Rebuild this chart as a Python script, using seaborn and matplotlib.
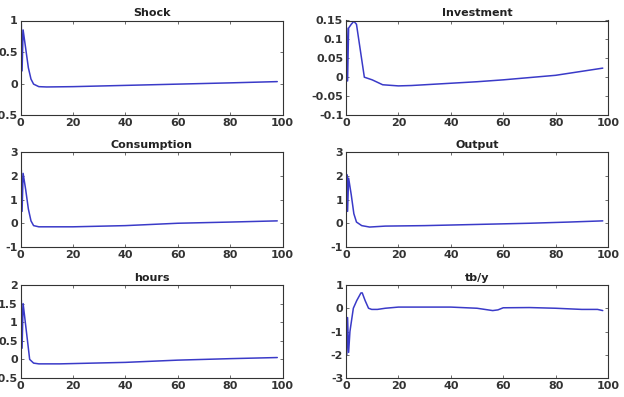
import numpy as np
import pandas as pd
import seaborn as sns
import matplotlib
matplotlib.use("Agg")
import matplotlib.pyplot as plt

titles = ["Shock", "Investment", "Consumption", "Output", "hours", "tb/y"]

shock_x = [0, 0.3, 0.6, 1, 2, 3, 4, 5, 7, 10, 20, 40, 60, 80, 98]
shock_y = [0, 0.95, 0.2, 0.85, 0.55, 0.25, 0.07, -0.01, -0.05, -0.055, -0.05, -0.03, -0.01, 0.01, 0.03]

inv_x = [0, 0.3, 0.6, 1, 2, 3, 4, 5.5, 7, 10, 14, 20, 25, 35, 50, 60, 80, 98]
inv_y = [-0.01, 0.13, -0.01, 0.13, 0.14, 0.148, 0.14, 0.07, 0.0, -0.007, -0.02, -0.023, -0.022, -0.018, -0.012, -0.007, 0.005, 0.024]

cons_x = [0, 0.3, 0.6, 1, 2, 3, 4, 5, 7, 20, 40, 60, 80, 98]
cons_y = [0, 2.25, 0.5, 2.1, 1.4, 0.6, 0.1, -0.1, -0.15, -0.15, -0.1, 0.0, 0.05, 0.1]

out_x = [0, 0.3, 0.6, 1, 2, 3, 4, 6, 9, 15, 30, 50, 70, 85, 98]
out_y = [0.4, 2.05, 0.5, 1.9, 1.2, 0.4, 0.05, -0.1, -0.16, -0.12, -0.1, -0.05, 0.0, 0.05, 0.1]

hours_x = [0, 0.3, 0.6, 1, 2, 3, 3.5, 5, 7, 15, 40, 60, 80, 98]
hours_y = [0, 1.6, 0.3, 1.5, 0.9, 0.3, 0.0, -0.1, -0.12, -0.12, -0.08, -0.02, 0.02, 0.05]

tby_x = [0, 0.3, 0.6, 1, 1.5, 2.8, 4.1, 5.7, 6.2, 7.3, 8.6, 9.8, 12, 15, 20, 40, 50, 56, 58, 60, 70, 80, 90, 96, 98]
tby_y = [-0.4, -2.0, -0.4, -1.9, -1.0, 0.0, 0.33, 0.66, 0.66, 0.33, 0.0, -0.05, -0.05, 0.0, 0.05, 0.05, 0.0, -0.1, -0.07, 0.02, 0.03, 0.0, -0.05, -0.05, -0.1]

series = [(shock_x, shock_y), (inv_x, inv_y), (cons_x, cons_y),
          (out_x, out_y), (hours_x, hours_y), (tby_x, tby_y)]

ylims = [(-0.5, 1), (-0.1, 0.15), (-1, 3), (-1, 3), (-0.5, 2), (-3, 1)]
yticks = [[-0.5, 0, 0.5, 1],
          [-0.1, -0.05, 0, 0.05, 0.1, 0.15],
          [-1, 0, 1, 2, 3],
          [-1, 0, 1, 2, 3],
          [-0.5, 0, 0.5, 1, 1.5, 2],
          [-3, -2, -1, 0, 1]]
xticks = [0, 20, 40, 60, 80, 100]

sns.set_style("ticks")
plt.rcParams['font.family'] = ['DejaVu Sans']

fig = plt.figure(figsize=(6.24, 3.97), dpi=100)
W, H = 624, 397
lefts = [20.5, 346]
width = 262
rows = [(20.5, 115), (152, 247), (285, 378)]

line_color = "#3a3ac8"

for i, (t, (xs, ys)) in enumerate(zip(titles, series)):
    r, c = divmod(i, 2)
    top, bot = rows[r]
    ax = fig.add_axes([lefts[c] / W, 1 - bot / H, width / W, (bot - top) / H])
    df = pd.DataFrame({"x": xs, "y": ys})
    sns.lineplot(data=df, x="x", y="y", ax=ax, color=line_color, linewidth=1.1)
    ax.set_xlim(0, 100)
    ax.set_ylim(*ylims[i])
    ax.set_xticks(xticks)
    ax.set_yticks(yticks[i])
    ax.set_yticklabels([("%g" % v) for v in yticks[i]])
    ax.set_xlabel("")
    ax.set_ylabel("")
    ax.set_title(t, fontsize=8, color="#222222", pad=3, fontweight="semibold")
    ax.tick_params(direction="in", length=2.5, width=0.6, top=True, right=True,
                   labelsize=8, labelcolor="#333333", color="#555555", pad=2)
    for s in ax.spines.values():
        s.set_linewidth(0.8)
        s.set_color("#333333")
    for lab in ax.get_xticklabels() + ax.get_yticklabels():
        lab.set_fontweight("semibold")

fig.savefig("out.png", dpi=100)
